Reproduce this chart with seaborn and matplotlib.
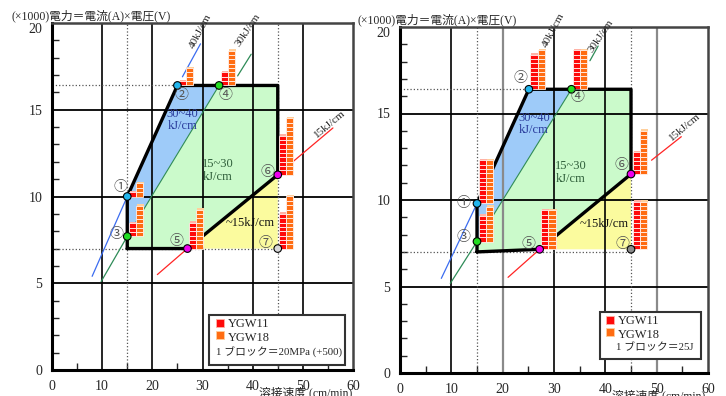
import matplotlib
matplotlib.use("Agg")
import matplotlib.pyplot as plt
from matplotlib.patches import Rectangle
import seaborn as sns

sns.set_style("white")
plt.rcParams['font.family'] = ['Liberation Serif', 'Noto Sans CJK JP', 'DejaVu Sans']

circled = ['①', '②', '③', '④', '⑤', '⑥', '⑦']
kj_labels = ['40kJ/cm', '30kJ/cm', '15kJ/cm']
kj_colors = ['#3b6cf0', '#2e8b57', '#ff2424']
region_labels = ['30~40\nkJ/cm', '15~30\nkJ/cm', '~15kJ/cm']
region_colors = ['#2a3c9c', '#2f5f3a', '#111111']

# ---- left panel (1 block = 20 MPa, +500) ----
L_speed = [15, 25, 15, 33.3, 27, 45, 45]
L_power = [10, 16.4, 7.7, 16.4, 7.0, 11.25, 7.0]
L_ygw11 = [1, 1, 3, 3, 6, 9, 8]
L_ygw18 = [3, 4, 7, 8, 9, 13, 12]
L_num_x = [13.7, 25.8, 12.9, 34.5, 24.8, 43.0, 42.6]
L_num_y = [10.5, 15.85, 7.8, 15.85, 7.4, 11.4, 7.3]
L_low_x = [8.0, 9.8, 21.0]      # lower ends of the 40/30/15 kJ lines
L_low_y = [5.4, 5.1, 5.5]
L_up_x = [[26.0, 29.6], [37.0, 39.7], [48.0, 56.0]]
L_up_y = [[16.9, 18.8], [16.95, 18.2], [12.0, 13.95]]
L_kjtxt_x = [29.6, 39.0, 55.4]
L_kjtxt_y = [19.5, 19.6, 14.2]
L_reg_x = [26.0, 33.1, 39.4]
L_reg_y = [14.4, 11.5, 8.5]
L_note = '1 ブロック＝20MPa (+500)'

# ---- right panel (1 block = 25 J) ----
R_speed = [15, 25.1, 15, 33.4, 27.2, 45, 45]
R_power = [9.8, 16.4, 7.6, 16.4, 7.15, 11.5, 7.15]
R_ygw11 = [10, 8, 6, 9, 9, 5, 11]
R_ygw18 = [10, 9, 8, 9, 9, 10, 11]
R_num_x = [12.3, 23.5, 12.4, 34.5, 25.1, 43.1, 43.3]
R_num_y = [9.8, 17.0, 7.85, 15.9, 7.4, 12.0, 7.4]
R_low_x = [8.05, 9.8, 21.05]
R_low_y = [5.47, 5.18, 5.53]
R_up_x = [[26.0, 27.8], [37.0, 38.6], [49.0, 54.8]]
R_up_y = [[17.2, 18.3], [18.05, 18.9], [12.3, 13.66]]
R_kjtxt_x = [29.8, 39.2, 55.5]
R_kjtxt_y = [19.8, 19.5, 14.2]
R_reg_x = [26.1, 33.2, 39.7]
R_reg_y = [14.4, 11.6, 8.6]
R_note = '1 ブロック＝25J'

corner = (15, 7)
block_h = 0.25
block_w = 1.4


def draw_panel(ax, spd, pw, n11, n18, num_x, num_y, low_x, low_y, up_x, up_y,
               kt_x, kt_y, reg_x, reg_y, note, box, icon_x, note_x, last_col, gray_v):
    ax.set_xlim(0, 60)
    ax.set_ylim(0, 20)

    # filled regions
    p = list(zip(spd, pw))
    ax.fill([p[2][0], p[0][0], p[1][0], p[3][0]], [p[2][1], p[0][1], p[1][1], p[3][1]],
            color='#9ecbf9', lw=0, zorder=1)
    ax.fill([corner[0], p[2][0], p[3][0], 45, p[5][0], p[4][0]],
            [corner[1], p[2][1], p[3][1], p[3][1], p[5][1], p[4][1]],
            color='#cbfacb', lw=0, zorder=1)
    ax.fill([p[4][0], p[5][0], p[6][0]], [p[4][1], p[5][1], p[6][1]],
            color='#fbfb9e', lw=0, zorder=1)

    # grid
    for gx in [10, 20, 30, 40, 50]:
        c = '#8a8a8a' if gx in gray_v else 'black'
        ax.axvline(gx, color=c, lw=1.6 if gx in gray_v else 1.2, zorder=2)
    for gy in [5, 10, 15]:
        ax.axhline(gy, color='black', lw=1.3, zorder=2)
    ax.axvline(15, color='#555555', ls=':', lw=0.9, zorder=2)
    ax.axvline(45, color='#555555', ls=':', lw=0.9, zorder=2)
    ax.hlines(corner[1], 0, p[6][0], color='#555555', ls=':', lw=0.9, zorder=2)
    ax.hlines(p[1][1], 0, p[1][0], color='#555555', ls=':', lw=0.9, zorder=2)

    # heat input lines
    ends = [p[0], p[2], p[4]]
    for k in range(3):
        sns.lineplot(x=[low_x[k], ends[k][0]], y=[low_y[k], ends[k][1]], ax=ax,
                     color=kj_colors[k], lw=0.9, sort=False, estimator=None, zorder=3)
        sns.lineplot(x=up_x[k], y=up_y[k], ax=ax, color=kj_colors[k], lw=0.9,
                     sort=False, estimator=None, zorder=3)
    sns.lineplot(x=[p[2][0], p[3][0]], y=[p[2][1], p[3][1]], ax=ax, color='#2e8b57',
                 lw=0.8, sort=False, estimator=None, zorder=3)
    rots = [62, 56, 40]
    for k in range(3):
        ax.text(kt_x[k], kt_y[k], kj_labels[k], rotation=rots[k], fontsize=8,
                ha='center', va='center', zorder=8, clip_on=False)

    # thick outline
    ox = [corner[0], p[0][0], p[1][0], 45, p[5][0], p[4][0], corner[0]]
    oy = [corner[1], p[0][1], p[1][1], p[1][1], p[5][1], p[4][1], corner[1]]
    sns.lineplot(x=ox, y=oy, ax=ax, color='black', lw=2.4, sort=False, estimator=None,
                 zorder=4)

    # block stacks
    for i in range(7):
        x0 = spd[i] + 0.3
        for n, col, shade, off in [(n11[i], '#ff0a0a', '#ffb2a6', 0),
                                   (n18[i], '#ff6c12', '#ffcf9c', block_w)]:
            cx = x0 + off + block_w / 2
            ax.bar(cx + 0.2, n * block_h, bottom=pw[i] + 0.09, width=block_w,
                   color=shade, lw=0, zorder=5)
            ax.bar([cx] * n, [block_h] * n, bottom=[pw[i] + j * block_h for j in range(n)],
                   width=block_w, color=col, edgecolor='#fff2ee', lw=0.6, zorder=5)

    # points
    colors = ['#22b6ee', '#22b6ee', '#22dd22', '#22dd22', '#ee00ee', '#ee00ee', last_col]
    sns.scatterplot(x=spd, y=pw, hue=circled, palette=dict(zip(circled, colors)),
                    s=30, edgecolor='black', linewidth=0.8, legend=False, ax=ax, zorder=7)
    for i in range(7):
        ax.text(num_x[i], num_y[i], circled[i], fontsize=10, color='#555555',
                ha='center', va='center', zorder=8)

    for k in range(3):
        ax.text(reg_x[k], reg_y[k], region_labels[k], color=region_colors[k], fontsize=9,
                ha='center', va='center', linespacing=1.05, zorder=8)

    # legend
    bx, by, bw, bh = box
    ax.add_patch(Rectangle((bx, by), bw, bh, facecolor='white', edgecolor='#333333',
                           lw=1.5, zorder=6))
    ax.scatter([icon_x], [by + bh - 0.45], marker='s', s=28, color='#ff0a0a',
               edgecolor='#ffb2a6', lw=0.6, zorder=7)
    ax.scatter([icon_x], [by + bh - 1.15], marker='s', s=28, color='#ff6c12',
               edgecolor='#ffcf9c', lw=0.6, zorder=7)
    ax.text(icon_x + 1.6, by + bh - 0.5, 'YGW11', fontsize=9, va='center', zorder=8)
    ax.text(icon_x + 1.6, by + bh - 1.3, 'YGW18', fontsize=9, va='center', zorder=8)
    ax.text(note_x, by + 0.7, note, fontsize=7.8, va='center', zorder=8)

    # axes cosmetics
    ax.set_xticks(range(0, 61, 10))
    ax.set_xticks(range(5, 60, 10), minor=True)
    ax.set_yticks(range(0, 21, 5))
    ax.set_yticks(range(0, 21, 1), minor=True)
    ax.tick_params(which='major', length=0, labelsize=10, pad=7)
    ax.tick_params(axis='y', which='minor', direction='in', length=5, width=1.0, left=True)
    ax.tick_params(axis='x', which='minor', direction='in', length=5, width=1.0, bottom=True)
    ax.get_yticklabels()[-1].set_verticalalignment('top')
    for side in ['left', 'bottom']:
        ax.spines[side].set_linewidth(2.2)
        ax.spines[side].set_color('black')
    for side in ['top', 'right']:
        ax.spines[side].set_linewidth(1.8)
        ax.spines[side].set_color('#444444')
    ax.text(41.3, -1.35, '溶接速度 (cm/min)', fontsize=8.5, va='center', clip_on=False,
            zorder=8)


fig = plt.figure(figsize=(7.26, 3.96), dpi=100)
ax1 = fig.add_axes([52 / 726, 26 / 396, 301 / 726, 347 / 396])
ax2 = fig.add_axes([400 / 726, 23 / 396, 308 / 726, 346 / 396])

draw_panel(ax1, L_speed, L_power, L_ygw11, L_ygw18, L_num_x, L_num_y, L_low_x, L_low_y,
           L_up_x, L_up_y, L_kjtxt_x, L_kjtxt_y, L_reg_x, L_reg_y, L_note,
           (31.3, 0.3, 27.1, 2.87), 33.5, 32.6, '#d8d8d8', [])
draw_panel(ax2, R_speed, R_power, R_ygw11, R_ygw18, R_num_x, R_num_y, R_low_x, R_low_y,
           R_up_x, R_up_y, R_kjtxt_x, R_kjtxt_y, R_reg_x, R_reg_y, R_note,
           (38.9, 0.8, 19.8, 2.7), 40.9, 42.0, '#8c8c8c', [20, 50])

fig.text(12 / 726, 1 - 16 / 396, '(×1000)電力＝電流(A)×電圧(V)', fontsize=8.5, va='center')
fig.text(358 / 726, 1 - 20 / 396, '(×1000)電力＝電流(A)×電圧(V)', fontsize=8.5, va='center')

fig.savefig('out.png', dpi=100)
